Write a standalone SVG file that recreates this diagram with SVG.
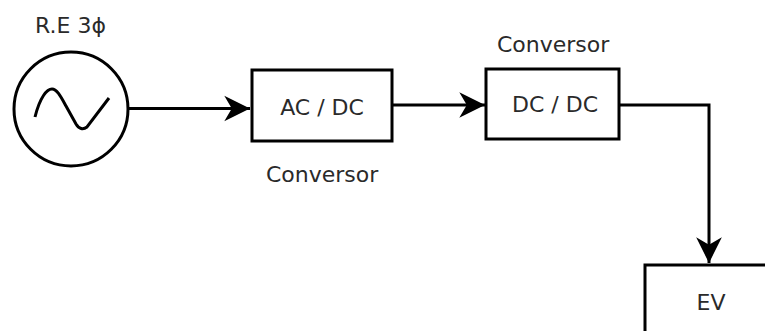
<svg xmlns="http://www.w3.org/2000/svg" width="765" height="331" viewBox="0 0 765 331">
<style>
.box{fill:#fff;stroke:#000;stroke-width:3}
.ln{fill:none;stroke:#000;stroke-width:3}
.t{font-family:"DejaVu Sans",Verdana,sans-serif;font-size:22px;fill:#2a2a2a}
</style>
<defs>
<marker id="ah" markerUnits="userSpaceOnUse" markerWidth="30" markerHeight="30" viewBox="-26 -14 28 28" refX="0" refY="0" orient="auto">
<path d="M0,0 L-24,-12 L-17,0 L-24,12 Z" fill="#000"/>
</marker>
</defs>
<rect width="765" height="331" fill="#fff"/>
<g id="connectors">
<path class="ln" d="M129,108.5 L250,108.5" marker-end="url(#ah)"/>
<path class="ln" d="M392,105 L485,105" marker-end="url(#ah)"/>
<path class="ln" d="M619,105 L709,105 L709,263" marker-end="url(#ah)"/>
</g>
<g id="source">
<circle cx="71" cy="109" r="57" class="ln"/>
<path class="ln" d="M35,117 C40,97 47,89 52,89 C57,89 61,97 66,106 L76,124 C79,129 83,130 87,127 L109,98"/>
<text class="t" x="35" y="33">R.E 3ϕ</text>
</g>
<g id="acdc">
<rect class="box" x="252" y="70" width="140" height="71"/>
<text class="t" x="322" y="115" text-anchor="middle">AC / DC</text>
<text class="t" x="266" y="182">Conversor</text>
</g>
<g id="dcdc">
<rect class="box" x="486" y="69" width="133" height="70"/>
<text class="t" x="555" y="112" text-anchor="middle">DC / DC</text>
<text class="t" x="497" y="52">Conversor</text>
</g>
<g id="ev">
<rect class="box" x="645" y="265" width="140" height="80"/>
<text class="t" x="711" y="310" text-anchor="middle">EV</text>
</g>
</svg>
